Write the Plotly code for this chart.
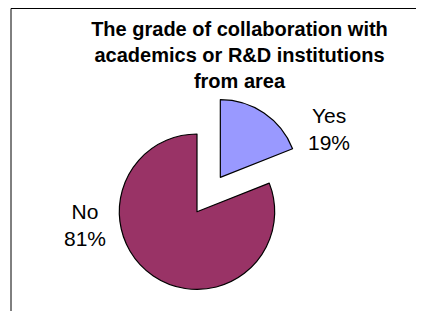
import math
import plotly.graph_objects as go

# ---- data ----
labels = ["Yes", "No"]
values = [19, 81]
colors = ["#9999FF", "#993366"]
title_lines = ["The grade of collaboration with", "academics or R&D institutions", "from area"]

# the page body has an 8px margin; work in window pixels and convert
OFF = 8
W, H = 424 - OFF, 311 - OFF
FONT = "Arial, 'Liberation Sans', Helvetica, sans-serif"


def fx(px):
    return (px - OFF) / W


def fy(py):
    return 1 - (py - OFF) / H


# pie geometry (window pixels)
cx, cy, r = 197.0, 211.7, 77.7
pull_px = 41.5
total = sum(values)
mid_deg = values[0] / total * 360 / 2
cx2 = cx + pull_px * math.sin(math.radians(mid_deg))
cy2 = cy - pull_px * math.cos(math.radians(mid_deg))


def dom(cxp, cyp):
    return dict(x=[fx(cxp - r), fx(cxp + r)], y=[fy(cyp + r), fy(cyp - r)])


clear = "rgba(0,0,0,0)"
fig = go.Figure()
# main body (No)
fig.add_trace(go.Pie(
    labels=labels, values=values, sort=False, direction="clockwise", rotation=0,
    marker=dict(colors=[clear, colors[1]], line=dict(color=[clear, "black"], width=[0, 1.2])),
    textinfo="none", hoverinfo="label+percent", domain=dom(cx, cy), showlegend=False))
# exploded slice (Yes)
fig.add_trace(go.Pie(
    labels=labels, values=values, sort=False, direction="clockwise", rotation=0,
    marker=dict(colors=[colors[0], clear], line=dict(color=["black", clear], width=[1.2, 0])),
    textinfo="none", hoverinfo="label+percent", domain=dom(cx2, cy2), showlegend=False))

# data labels
label_pos = {"Yes": (329, 129), "No": (85, 225)}
for lab, v in zip(labels, values):
    px, py = label_pos[lab]
    fig.add_annotation(x=fx(px), y=fy(py), xref="paper", yref="paper",
                       text=f"{lab}<br>{round(v / total * 100)}%", showarrow=False,
                       xanchor="center", yanchor="middle",
                       font=dict(family=FONT, size=21, color="black"))

fig.update_layout(
    width=W, height=H, autosize=False,
    margin=dict(l=0, r=0, t=0, b=0),
    paper_bgcolor="white", plot_bgcolor="white",
    title=dict(text="<b>" + "<br>".join(title_lines) + "</b>",
               x=fx(239.5), xanchor="center", y=fy(36), yanchor="top",
               yref="container",
               font=dict(family=FONT, size=20, color="black")),
    shapes=[dict(type="rect", xref="paper", yref="paper",
                 x0=fx(11), x1=fx(423), y0=-0.1, y1=fy(8.5),
                 line=dict(color="black", width=1), fillcolor="rgba(0,0,0,0)")],
)

fig.write_html("out.html")
